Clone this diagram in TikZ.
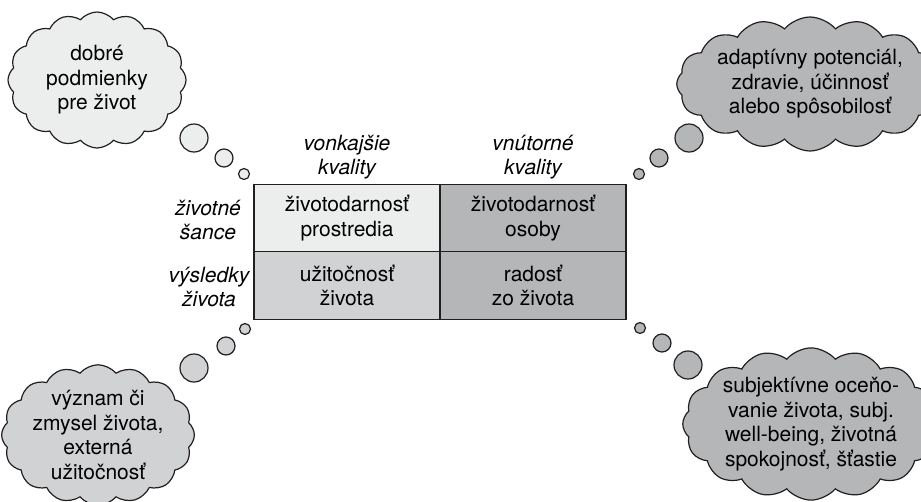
\documentclass[tikz,border=0pt]{standalone}
\usepackage{fontspec}
\setmainfont{TeX Gyre Heros}
\usetikzlibrary{shapes.symbols}
\definecolor{light}{HTML}{ECEDED}
\definecolor{midg}{HTML}{D1D2D4}
\definecolor{darkg}{HTML}{B5B6B8}
\definecolor{ink}{HTML}{231F20}
\newcommand\myfs{\fontsize{21}{24.5}\selectfont}
\begin{document}
\begin{tikzpicture}[x=1pt,y=-1pt,
  cellbox/.style={draw=ink, line width=1.2pt, minimum width=186pt, minimum height=67.5pt, align=center, inner sep=0pt, font=\myfs},
  lbl/.style={align=center, inner sep=0pt, font=\myfs\itshape},
  thought/.style={cloud, draw=ink, line width=1.2pt, cloud puffs=16, cloud puff arc=100, cloud ignores aspect, align=center, inner sep=0pt, font=\myfs},
  bub/.style={circle, draw=ink, line width=1.2pt, inner sep=0pt}]
\useasboundingbox (0,0) rectangle (921,501);
% table
\node[cellbox, fill=light] (c11) at (347,218) {životodarnosť\\prostredia};
\node[cellbox, fill=darkg] (c12) at (533,218) {životodarnosť\\osoby};
\node[cellbox, fill=midg] (c21) at (347,285.5) {užitočnosť\\života};
\node[cellbox, fill=darkg] (c22) at (533,285.5) {radosť\\zo života};
% labels
\node[lbl] (h1) at (347,157) {vonkajšie\\kvality};
\node[lbl] (h2) at (533,157) {vnútorné\\kvality};
\node[lbl] (r1) at (208,220) {životné\\šance};
\node[lbl] (r2) at (209,287) {výsledky\\života};
% clouds
\node[thought, fill=light, minimum width=178pt, minimum height=136pt] (tl) at (97,80) {dobré\\podmienky\\pre život};
\node[thought, fill=darkg, minimum width=228pt, minimum height=134pt] (tr) at (810,84) {adaptívny potenciál,\\zdravie, účinnosť\\alebo spôsobilosť};
\node[thought, fill=midg, minimum width=182pt, minimum height=140pt] (bl) at (98,435) {význam či\\zmysel života,\\externá\\užitočnosť};
\node[thought, fill=darkg, minimum width=224pt, minimum height=144pt] (br) at (811,424) {subjektívne oceňo-\\vanie života, subj.\\well-being, životná\\spokojnosť, šťastie};
% bubbles
\node[bub, fill=light, minimum size=28pt] (tlb1) at (194,138) {};
\node[bub, fill=light, minimum size=18pt] (tlb2) at (224,158) {};
\node[bub, fill=light, minimum size=11pt] (tlb3) at (244,174) {};
\node[bub, fill=darkg, minimum size=28pt] (trb1) at (689,138) {};
\node[bub, fill=darkg, minimum size=18pt] (trb2) at (659,158) {};
\node[bub, fill=darkg, minimum size=11pt] (trb3) at (639,174) {};
\node[bub, fill=midg, minimum size=28pt] (blb1) at (194,368) {};
\node[bub, fill=midg, minimum size=18pt] (blb2) at (226,346) {};
\node[bub, fill=midg, minimum size=11pt] (blb3) at (245,329) {};
\node[bub, fill=darkg, minimum size=28pt] (brb1) at (688,365) {};
\node[bub, fill=darkg, minimum size=18pt] (brb2) at (662,343) {};
\node[bub, fill=darkg, minimum size=11pt] (brb3) at (640,328) {};
\end{tikzpicture}
\end{document}
